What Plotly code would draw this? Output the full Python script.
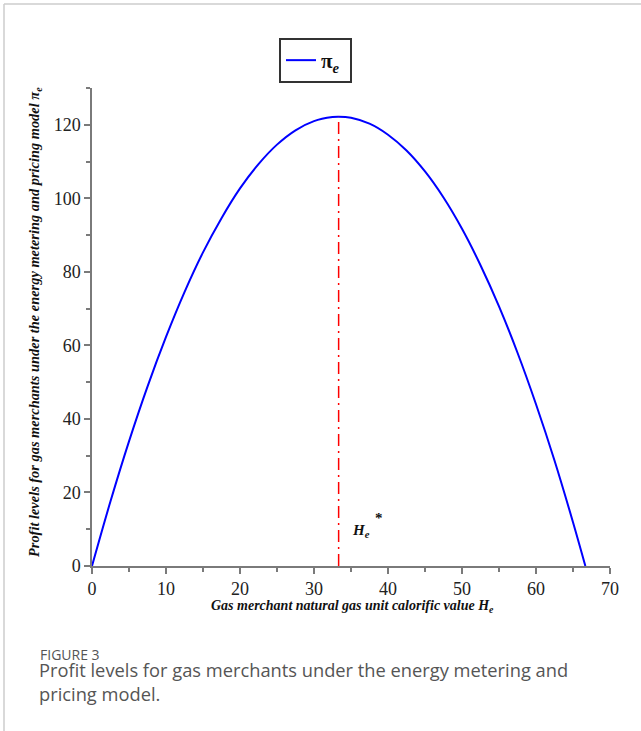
import plotly.graph_objects as go

# Data
H_vals = [0, 2.5, 5, 7.5, 10, 12.5, 15, 17.5, 20, 22.5, 25, 27.5, 30, 32.5, 33.33,
          35, 37.5, 40, 42.5, 45, 47.5, 50, 52.5, 55, 57.5, 60, 62.5, 65, 66.67]
pi_vals = [0, 17.6, 33.9, 48.8, 62.3, 74.5, 85.3, 94.6, 102.7, 109.3, 114.6, 118.5, 121.0,
           122.1, 122.2, 121.9, 120.3, 117.3, 113.0, 107.3, 100.2, 91.7, 81.8, 70.6, 58.0,
           44.0, 28.7, 11.9, 0]
H_star = 33.33
pi_star = 122.2
x_ticks = [0, 10, 20, 30, 40, 50, 60, 70]
y_ticks = [0, 20, 40, 60, 80, 100, 120]

W, Hh = 641, 731
L, R, T, B = 92, 31, 88, 165
pw, ph = W - L - R, Hh - T - B

def px2x(px):
    return (px - L) / pw

def px2y(py):
    return (Hh - B - py) / ph

serif = "Liberation Serif"

fig = go.Figure()
fig.add_trace(go.Scatter(
    x=H_vals, y=pi_vals, mode="lines", line=dict(color="#0000ff", width=2, shape="spline"),
    name="<b>π</b><sub><b><i>e</i></b></sub> "))
fig.add_trace(go.Scatter(
    x=[H_star, H_star], y=[0, pi_star], mode="lines",
    line=dict(color="#ff0000", width=1.5, dash="12px,5px,2px,5px"), showlegend=False))

tickfont = dict(family=serif, size=18, color="#222222")
axis_common = dict(
    showgrid=False, zeroline=False, showline=True, linecolor="#7a7a7a", linewidth=1.5,
    ticks="outside", tickcolor="#7a7a7a", tickwidth=1.5, tickfont=tickfont,
)
fig.update_xaxes(range=[0, 70], tickvals=x_ticks, ticklen=6,
                 minor=dict(dtick=5, ticks="outside", ticklen=4, tickcolor="#7a7a7a", tickwidth=1.5),
                 **axis_common)
fig.update_yaxes(range=[0, 130], tickvals=y_ticks, ticklen=6,
                 minor=dict(dtick=10, ticks="outside", ticklen=4, tickcolor="#7a7a7a", tickwidth=1.5),
                 **axis_common)

ann = []
ann.append(dict(
    xref="paper", yref="paper", x=px2x(35), y=px2y(322), textangle=-90,
    text="<b><i>Profit levels for gas merchants under the energy metering and pricing model π<sub>e</sub></i></b>",
    showarrow=False, xanchor="center", yanchor="middle",
    font=dict(family=serif, size=14.4, color="#111111")))
ann.append(dict(
    xref="paper", yref="paper", x=px2x(352), y=px2y(606),
    text="<b><i>Gas merchant natural gas unit calorific value H<sub>e</sub></i></b>",
    showarrow=False, xanchor="center", yanchor="middle",
    font=dict(family=serif, size=14, color="#111111")))
ann.append(dict(
    xref="x", yref="y", x=36.3, y=9.5,
    text="<b><i>H<sub>e</sub></i></b>", showarrow=False,
    font=dict(family=serif, size=15, color="#111111")))
ann.append(dict(
    xref="x", yref="y", x=38.8, y=13.0,
    text="<b>*</b>", showarrow=False,
    font=dict(family=serif, size=15, color="#111111")))
ann.append(dict(
    xref="paper", yref="paper", x=px2x(38), y=px2y(643),
    text="FIGURE 3", showarrow=False, xanchor="left", yanchor="top",
    font=dict(family="Open Sans", size=14, color="#555555")))
ann.append(dict(
    xref="paper", yref="paper", x=px2x(37), y=px2y(655),
    text="Profit levels for gas merchants under the energy metering and<br>pricing model.",
    showarrow=False, xanchor="left", yanchor="top", align="left",
    font=dict(family="Open Sans", size=18.3, color="#555555")))

shapes = [
    dict(type="line", xref="paper", yref="paper", x0=px2x(4), x1=px2x(641), y0=px2y(4), y1=px2y(4),
         line=dict(color="#cccccc", width=1.5)),
    dict(type="line", xref="paper", yref="paper", x0=px2x(4), x1=px2x(4), y0=px2y(4), y1=px2y(731),
         line=dict(color="#cccccc", width=1.5)),
]

fig.update_layout(
    width=W, height=Hh, autosize=False,
    margin=dict(l=L, r=R, t=T, b=B),
    plot_bgcolor="white", paper_bgcolor="white",
    font=dict(family=serif, color="#222222"),
    showlegend=True,
    legend=dict(x=px2x(279), y=px2y(38), xanchor="left", yanchor="top",
                bordercolor="#333333", borderwidth=2, bgcolor="white",
                font=dict(family=serif, size=21, color="#111111")),
    annotations=ann, shapes=shapes,
)

fig.write_html("out.html", config={"displayModeBar": False},
               post_script="document.body.style.margin='0';document.body.style.overflow='hidden';")
